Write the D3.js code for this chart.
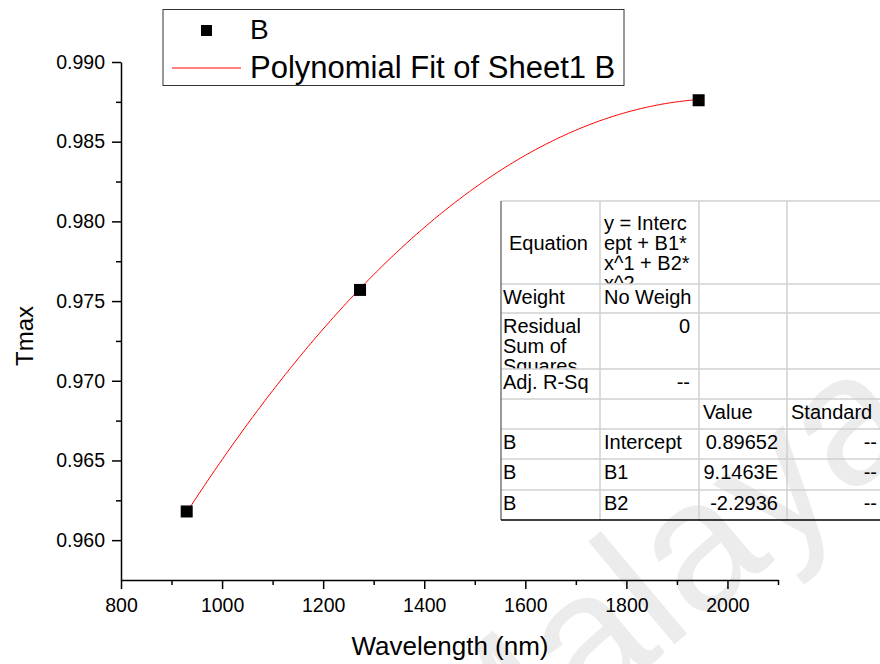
<!DOCTYPE html>
<html>
<head>
<meta charset="utf-8">
<script src="https://cdn.jsdelivr.net/npm/d3@7.9.0/dist/d3.min.js"></script>
<style>
  body { margin: 0; background: #fff; }
  svg { display: block; font-family: "Liberation Sans", Arial, sans-serif; }
</style>
</head>
<body>
<svg id="chart" width="880" height="664"></svg>
<script>
// data
const wavelength = [930, 1273, 1943];
const tmax = [0.9618, 0.9757, 0.9876];
const fitCoefs = [0.89652, 9.1463e-5, -2.2936e-8]; // Intercept, B1, B2 from the table

const xMajor = [800, 1000, 1200, 1400, 1600, 1800, 2000];
const xMinor = [900, 1100, 1300, 1500, 1700, 1900, 2100];
const yMajor = [0.960, 0.965, 0.970, 0.975, 0.980, 0.985, 0.990];
const yMinor = [0.9625, 0.9675, 0.9725, 0.9775, 0.9825, 0.9875];

const legendLabels = ["B", "Polynomial Fit of Sheet1 B"];

// fit report table (text as shown, cut off by the cells)
const tableCol1 = ["Equation", "Weight", "Residual\nSum of\nSquares", "Adj. R-Sq", "", "B", "B", "B"];
const tableCol2 = ["y = Interc\nept + B1*\nx^1 + B2*\nx^2", "No Weigh", "0", "--", "", "Intercept", "B1", "B2"];
const tableCol3 = ["", "", "", "", "Value", "0.89652", "9.1463E", "-2.2936"];
const tableCol4 = ["", "", "", "", "Standard", "--", "--", "--"];

const svg = d3.select("#chart");

// faint watermark behind everything
svg.append("text")
  .attr("transform", "translate(925,434) rotate(-40)")
  .attr("text-anchor", "end")
  .attr("font-size", 185)
  .attr("fill", "#ececec")
  .text("Malaya");

const x = d3.scaleLinear().domain([800, 2100]).range([121, 778]);
const y = d3.scaleLinear().domain([0.9575, 0.990]).range([580, 62]);

// minor ticks first, then the major axes on top
svg.append("g")
  .attr("transform", "translate(0,580)")
  .call(d3.axisBottom(x).tickValues(xMinor).tickSize(5).tickFormat(""))
  .call(g => g.select(".domain").remove());
svg.append("g")
  .attr("transform", "translate(121,0)")
  .call(d3.axisLeft(y).tickValues(yMinor).tickSize(5).tickFormat(""))
  .call(g => g.select(".domain").remove());

const xAxis = svg.append("g")
  .attr("transform", "translate(0,580)")
  .call(d3.axisBottom(x).tickValues(xMajor).tickSize(9).tickSizeOuter(0).tickPadding(9).tickFormat(d3.format("d")));
const yAxis = svg.append("g")
  .attr("transform", "translate(121,0)")
  .call(d3.axisLeft(y).tickValues(yMajor).tickSize(9).tickSizeOuter(0).tickPadding(7).tickFormat(d3.format(".3f")));

[xAxis, yAxis].forEach(g => {
  g.selectAll("text").attr("font-size", 19.5).attr("fill", "#000").attr("font-family", null);
});
svg.selectAll("g path, g line").attr("stroke", "#000").attr("stroke-width", 1.5);

// axis titles
svg.append("text")
  .attr("x", 450).attr("y", 655)
  .attr("text-anchor", "middle")
  .attr("font-size", 26)
  .text("Wavelength (nm)");
svg.append("text")
  .attr("transform", "translate(33,336) rotate(-90)")
  .attr("text-anchor", "middle")
  .attr("font-size", 24)
  .text("Tmax");

// polynomial fit curve
const fitX = d3.range(wavelength[0], wavelength[2] + 1, 5);
const fitLine = d3.line()
  .x(d => x(d))
  .y(d => y(fitCoefs[0] + fitCoefs[1] * d + fitCoefs[2] * d * d));
svg.append("path")
  .datum(fitX)
  .attr("d", fitLine)
  .attr("fill", "none")
  .attr("stroke", "#ff0000")
  .attr("stroke-width", 1);

// data points
svg.selectAll("rect.pt")
  .data(d3.zip(wavelength, tmax))
  .enter()
  .append("rect")
  .attr("class", "pt")
  .attr("x", d => x(d[0]) - 6)
  .attr("y", d => y(d[1]) - 6)
  .attr("width", 12)
  .attr("height", 12)
  .attr("fill", "#000");

// legend
const legend = svg.append("g");
legend.append("rect")
  .attr("x", 163).attr("y", 9.5)
  .attr("width", 461).attr("height", 76)
  .attr("fill", "#fff")
  .attr("stroke", "#333")
  .attr("stroke-width", 1);
legend.append("rect")
  .attr("x", 201).attr("y", 25)
  .attr("width", 11).attr("height", 11)
  .attr("fill", "#000");
legend.append("line")
  .attr("x1", 172).attr("x2", 241)
  .attr("y1", 68).attr("y2", 68)
  .attr("stroke", "#ff0000").attr("stroke-width", 1);
legend.selectAll("text")
  .data(legendLabels)
  .enter()
  .append("text")
  .attr("x", 250)
  .attr("y", (d, i) => i === 0 ? 39 : 78)
  .attr("font-size", (d, i) => i === 0 ? 28 : 31)
  .text(d => d);

// fit table
const colLefts = [501, 600, 699, 787, 886];
const rowTops = [201, 284, 313, 369, 399, 429, 459, 490, 520];
const columns = [tableCol1, tableCol2, tableCol3, tableCol4];
const table = svg.append("g").attr("font-size", 20);

const defs = svg.append("defs");
columns.forEach((col, c) => {
  col.forEach((txt, r) => {
    if (!txt) return;
    const id = `cell-${c}-${r}`;
    const left = colLefts[c], right = colLefts[c + 1];
    const top = rowTops[r], bottom = rowTops[r + 1];
    defs.append("clipPath").attr("id", id)
      .append("rect")
      .attr("x", left).attr("y", top)
      .attr("width", right - left).attr("height", bottom - top);
    const lines = txt.split("\n");
    const rightAlign = /^(-|\d)/.test(txt);
    let base = top + 20, step = 20, pad = 2;
    if (r === 0 && c === 0) { base = (top + bottom) / 2 + 7; pad = 8; }
    if (r === 0 && c === 1) { base = top + 29; }
    const t = table.append("text")
      .attr("clip-path", `url(#${id})`)
      .attr("text-anchor", rightAlign ? "end" : "start");
    lines.forEach((ln, i) => {
      t.append("tspan")
        .attr("x", rightAlign ? right - 9 : left + pad + (c > 0 ? 2 : 0))
        .attr("y", base + i * step)
        .text(ln);
    });
  });
});

// grid lines of the table
const grid = svg.append("g").attr("stroke", "#d0d0d0").attr("stroke-width", 1.5);
rowTops.slice(0, -1).forEach(ry => {
  grid.append("line").attr("x1", 501).attr("x2", 880).attr("y1", ry).attr("y2", ry);
});
colLefts.slice(1, -1).forEach(cx => {
  grid.append("line").attr("x1", cx).attr("x2", cx).attr("y1", 201).attr("y2", 520);
});
svg.append("line")
  .attr("x1", 501).attr("x2", 501).attr("y1", 201).attr("y2", 520)
  .attr("stroke", "#777").attr("stroke-width", 1.5);
svg.append("line")
  .attr("x1", 501).attr("x2", 880).attr("y1", 520).attr("y2", 520)
  .attr("stroke", "#000").attr("stroke-width", 1.5);
</script>
</body>
</html>
